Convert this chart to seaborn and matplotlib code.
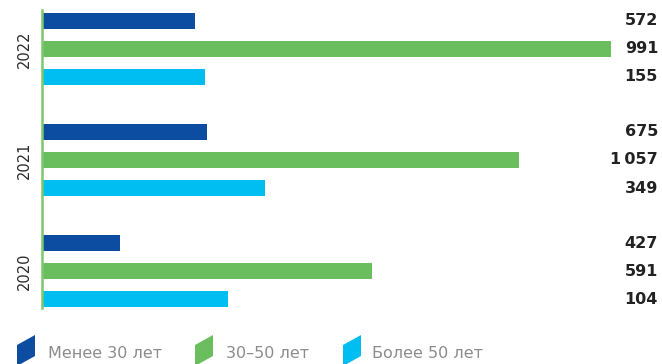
import numpy as np
import pandas as pd
import matplotlib
matplotlib.use("Agg")
import matplotlib.pyplot as plt
import matplotlib.transforms as mtransforms
from matplotlib.patches import Polygon
import seaborn as sns

# data
years = ['2022', '2021', '2020']
groups = ['Менее 30 лет', '30–50 лет', 'Более 50 лет']
# bar lengths as drawn in the picture (arbitrary units)
under30 = [153, 165, 78]
mid30_50 = [569, 477, 330]
over50 = [163, 223, 186]
# numbers printed at the right edge
lbl_under30 = ['572', '675', '427']
lbl_mid = ['991', '1\u2009057', '591']
lbl_over50 = ['155', '349', '104']

colors = ['#0C4DA2', '#6BBE5E', '#00BDF2']

df = pd.DataFrame({
    'year': years * 3,
    'group': [groups[0]] * 3 + [groups[1]] * 3 + [groups[2]] * 3,
    'value': under30 + mid30_50 + over50,
})

sns.set_style('white')
plt.rcParams['font.family'] = ['DejaVu Sans']

W, H = 662, 364
fig = plt.figure(figsize=(W / 100, H / 100), dpi=100)
ax = fig.add_axes([42 / W, 1 - 308 / H, 569 / W, 298 / H])

sns.barplot(data=df, y='year', x='value', hue='group', order=years,
            hue_order=groups, palette=colors, orient='h', saturation=1,
            width=0.757, gap=0.43, linewidth=0, legend=False, ax=ax)

ax.set_xlim(0, 569)
ax.set_ylim(2.333, -0.351)
ax.set_xlabel('')
ax.set_ylabel('')
ax.set_xticks([])
for s in ['top', 'right', 'bottom']:
    ax.spines[s].set_visible(False)
ax.spines['left'].set_color('#7CC86C')
ax.spines['left'].set_linewidth(1.8)
ax.tick_params(axis='y', length=0, pad=7)
for t in ax.get_yticklabels():
    t.set_rotation(90)
    t.set_va('center')
    t.set_fontsize(10.5)
    t.set_color('#2A2A2A')

# value labels at the right edge
trans = mtransforms.blended_transform_factory(fig.transFigure, ax.transData)
slot = 0.757 / 3
for i in range(len(years)):
    for j, lbls in enumerate([lbl_under30, lbl_mid, lbl_over50]):
        y = i + (j - 1) * slot
        ax.text(658 / W, y, lbls[i], transform=trans, ha='right', va='center',
                fontsize=11.5, fontweight='bold', color='#222222')

# legend with slanted markers
leg_x = [17, 195, 343]
txt_x = [48, 226, 372]
for k in range(3):
    x0 = leg_x[k]
    pts = [(x0, 345), (x0 + 18, 335), (x0 + 18, 356), (x0, 366)]
    pts = [(px / W, 1 - py / H) for px, py in pts]
    fig.patches.append(Polygon(pts, closed=True, transform=fig.transFigure,
                               facecolor=colors[k], edgecolor='none'))
    fig.text(txt_x[k] / W, 1 - 353 / H, groups[k], ha='left', va='center',
             fontsize=11.5, color='#8C8C8C')

fig.savefig('out.png', dpi=100)
